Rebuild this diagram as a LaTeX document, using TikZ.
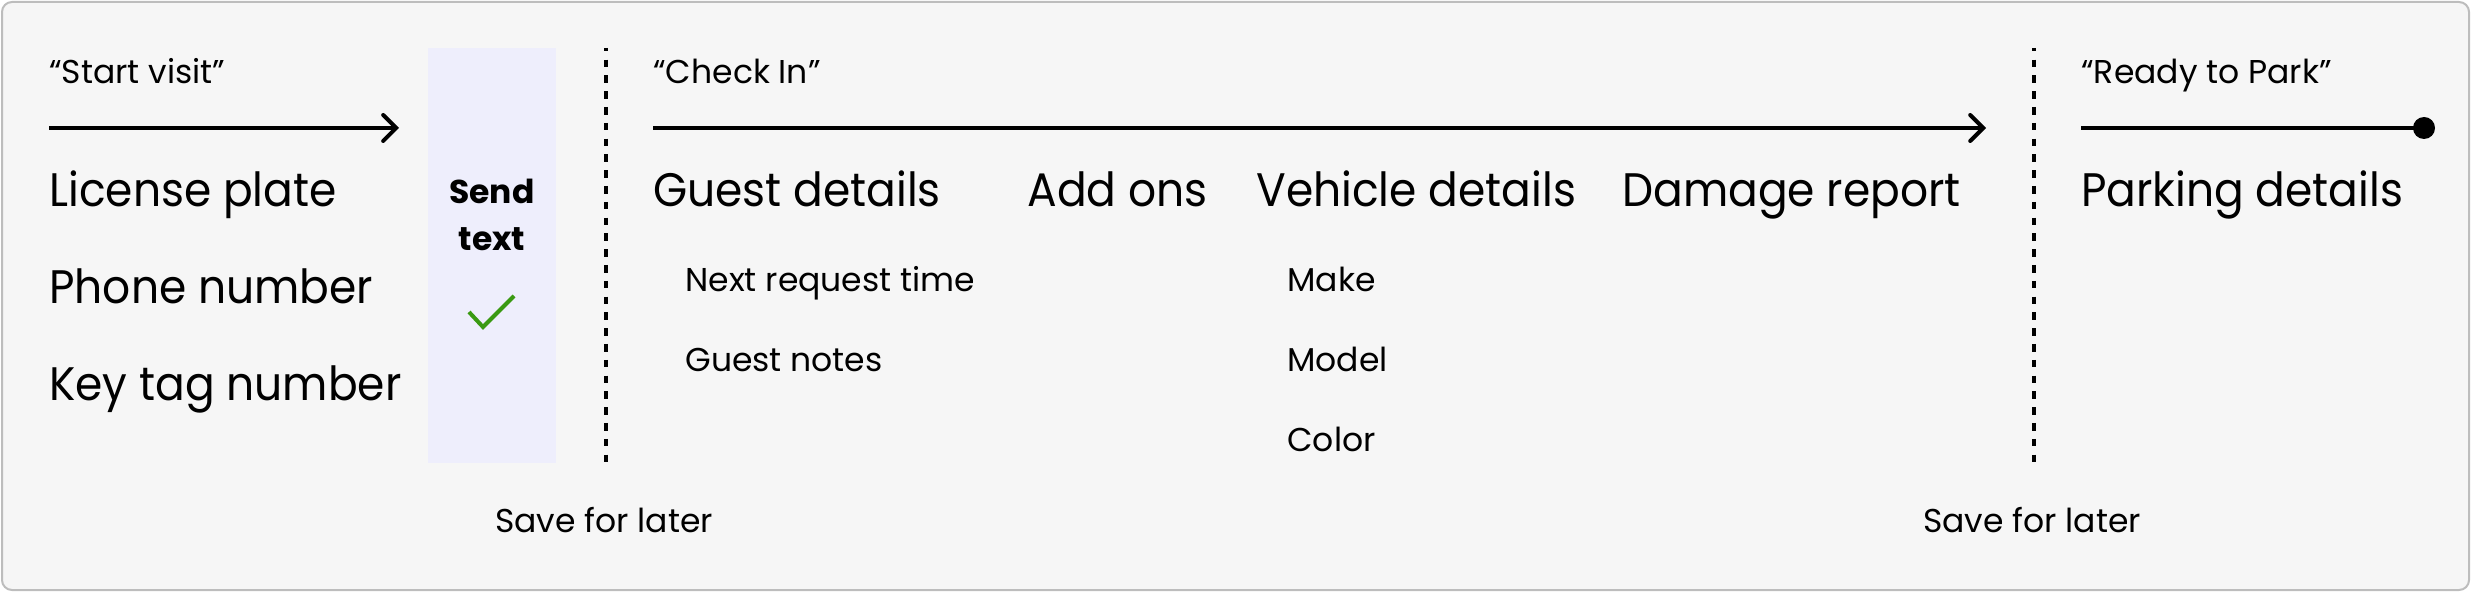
\documentclass[tikz,border=0pt]{standalone}
\usepackage{fontspec}
\setmainfont{Poppins}
\newfontfamily\widefont{Poppins}[FakeStretch=0.935]
\usetikzlibrary{arrows.meta}
\definecolor{panelbg}{HTML}{F6F6F6}
\definecolor{panelrule}{HTML}{BDBDBD}
\definecolor{sendbg}{HTML}{EEEEFC}
\definecolor{tickgreen}{HTML}{3A9A12}

\begin{document}
\begin{tikzpicture}[x=0.5pt,y=-0.5pt,
  big/.style={anchor=base west,inner sep=0pt,font=\widefont\fontsize{23.5}{28}\selectfont},
  small/.style={anchor=base west,inner sep=0pt,font=\fontsize{16.5}{20}\selectfont},
  flow/.style={line width=2pt,-{Straight Barb[length=6.5pt,width=13pt,line cap=round]}},
  divider/.style={line width=2pt,dash pattern=on 3.85pt off 4.05pt,dash phase=2.1pt}]
\useasboundingbox (0,0) rectangle (2472,592);
\draw[panelrule,fill=panelbg,line width=1pt,rounded corners=5pt] (2,2) rectangle (2469,590);

% first step
\node[small] (startq) at (49,84) {“Start visit”};
\coordinate (startA) at (49,128);
\coordinate (startB) at (399,128);
\draw[flow] (startA) -- (startB);
\node[big] (plate) at (49,207) {License plate};
\node[big] (phone) at (49,304) {Phone number};
\node[big] (keytag) at (49,401) {Key tag number};

% send text box
\fill[sendbg] (428,48) rectangle (556,463);
\node[small,anchor=base,font=\fontsize{16.5}{20}\selectfont\bfseries] (send) at (492,204) {Send};
\node[small,anchor=base,font=\fontsize{16.5}{20}\selectfont\bfseries] (sendtext) at (492,251) {text};
\draw[tickgreen,line width=2pt] (469,312) -- (483,327) -- (514,296);

\coordinate (cutA) at (606,48);
\coordinate (cutB) at (606,463);
\draw[divider] (cutA) -- (cutB);
\node[small,anchor=base] (save1) at (604,532) {Save for later};

% check in
\node[small] (checkq) at (653,84) {“Check In”};
\coordinate (checkA) at (653,128);
\coordinate (checkB) at (1986,128);
\draw[flow] (checkA) -- (checkB);
\node[big] (guest) at (653,207) {Guest details};
\node[small] (nextreq) at (685,292) {Next request time};
\node[small] (notes) at (685,372) {Guest notes};
\node[big] (addons) at (1027,207) {Add ons};
\node[big] (vehicle) at (1256,207) {Vehicle details};
\node[small] (make) at (1287,292) {Make};
\node[small] (model) at (1287,372) {Model};
\node[small] (color) at (1287,452) {Color};
\node[big] (damage) at (1622,207) {Damage report};

\coordinate (cutC) at (2034,48);
\coordinate (cutD) at (2034,463);
\draw[divider] (cutC) -- (cutD);
\node[small,anchor=base] (save2) at (2032,532) {Save for later};

% ready to park
\node[small] (parkq) at (2081,84) {“Ready to Park”};
\coordinate (parkA) at (2081,128);
\node[circle,fill,inner sep=0pt,minimum size=11pt] (parkend) at (2424,128) {};
\draw[line width=2pt] (parkA) -- (parkend.center);
\node[big] (parking) at (2081,207) {Parking details};
\end{tikzpicture}
\end{document}
